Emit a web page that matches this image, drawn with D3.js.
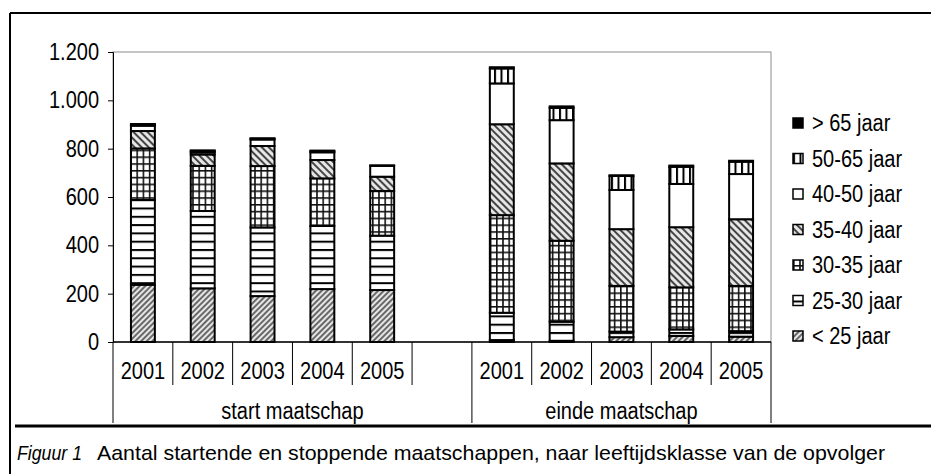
<!DOCTYPE html>
<html>
<head>
<meta charset="utf-8">
<script src="https://cdn.jsdelivr.net/npm/d3@7"></script>
<style>
  body { margin: 0; background: #fff; }
  svg text { font-family: "Liberation Sans", Arial, sans-serif; fill: #000; }
  /* narrow look of the original font */
  svg text.n { transform-box: fill-box; transform: scaleX(0.87); }
  svg text.ns { transform-origin: left center; }
  svg text.nm { transform-origin: center center; }
  svg text.ne { transform-origin: right center; }
</style>
</head>
<body>
<div id="chart"></div>
<script>
// categories (11 slots: 5 start years, an empty gap, 5 end years)
var slots = ["s2001", "s2002", "s2003", "s2004", "s2005", "gap", "e2001", "e2002", "e2003", "e2004", "e2005"];
var slotLabels = ["2001", "2002", "2003", "2004", "2005", "", "2001", "2002", "2003", "2004", "2005"];
var groups = ["start maatschap", "einde maatschap"];
var ageClasses = ["< 25 jaar", "25-30 jaar", "30-35 jaar", "35-40 jaar", "40-50 jaar", "50-65 jaar", "> 65 jaar"];
var yTicks = [0, 200, 400, 600, 800, 1000, 1200];

// values per age class, in slot order (gap = 0)
var lt25  = [237, 222, 190, 219, 215, 0,   8,   5,  20,  25,  22];
var a2530 = [351, 320, 284, 261, 225, 0, 113,  79,  23,  27,  23];
var a3035 = [213, 187, 254, 197, 185, 0, 404, 335, 189, 174, 187];
var a3540 = [ 72,  47,  83,  76,  59, 0, 376, 320, 235, 249, 276];
var a4050 = [ 22,   9,  27,  32,  45, 0, 169, 179, 162, 179, 187];
var a5065 = [  5,   5,   3,   4,   0, 0,  62,  51,  58,  71,  51];
var gt65  = [  2,   3,   2,   3,   2, 0,   5,   6,   3,   5,   4];

var series = [lt25, a2530, a3035, a3540, a4050, a5065, gt65];

var W = 931, H = 474;
var svg = d3.select("#chart").append("svg").attr("width", W).attr("height", H);

// patterns
var defs = svg.append("defs");
function pat(id, w, h, rot) {
  var p = defs.append("pattern").attr("id", id).attr("patternUnits", "userSpaceOnUse")
    .attr("width", w).attr("height", h);
  if (rot) p.attr("patternTransform", "rotate(" + rot + ")");
  return p;
}
var p0 = pat("p0", 4, 4, 45);
p0.append("rect").attr("width", 4).attr("height", 4).attr("fill", "#e6e6e6");
p0.append("line").attr("x1", 1).attr("x2", 1).attr("y1", 0).attr("y2", 4).attr("stroke", "#333").attr("stroke-width", 1.4);
var p1 = pat("p1", 8, 8.3);
p1.append("rect").attr("width", 8).attr("height", 8.3).attr("fill", "#fff");
p1.append("line").attr("x1", 0).attr("x2", 8).attr("y1", 1).attr("y2", 1).attr("stroke", "#000").attr("stroke-width", 2);
var p2 = pat("p2", 6.2, 6.8);
p2.append("rect").attr("width", 6.2).attr("height", 6.8).attr("fill", "#fff");
p2.append("line").attr("x1", 0).attr("x2", 6.2).attr("y1", 0.8).attr("y2", 0.8).attr("stroke", "#111").attr("stroke-width", 1.6);
p2.append("line").attr("x1", 0.8).attr("x2", 0.8).attr("y1", 0).attr("y2", 6.8).attr("stroke", "#111").attr("stroke-width", 1.6);
var p3 = pat("p3", 5, 5, -45);
p3.append("rect").attr("width", 5).attr("height", 5).attr("fill", "#e6e6e6");
p3.append("line").attr("x1", 1).attr("x2", 1).attr("y1", 0).attr("y2", 5).attr("stroke", "#333").attr("stroke-width", 1.8);
var p5 = pat("p5", 6.5, 6);
p5.append("rect").attr("width", 6.5).attr("height", 6).attr("fill", "#fff");
p5.append("line").attr("x1", 1).attr("x2", 1).attr("y1", 0).attr("y2", 6).attr("stroke", "#000").attr("stroke-width", 2);

var fills = ["url(#p0)", "url(#p1)", "url(#p2)", "url(#p3)", "#fff", "url(#p5)", "#000"];

// frame
svg.append("line").attr("x1", 10).attr("x2", W).attr("y1", 13).attr("y2", 13).attr("stroke", "#000").attr("stroke-width", 2);
svg.append("line").attr("x1", 10).attr("x2", 10).attr("y1", 13).attr("y2", H).attr("stroke", "#000").attr("stroke-width", 2);
svg.append("line").attr("x1", 15).attr("x2", W).attr("y1", 426).attr("y2", 426).attr("stroke", "#000").attr("stroke-width", 3);

var plotL = 113, plotR = 771, plotT = 52, plotB = 342;

var x = d3.scaleBand().domain(slots).range([plotL, plotR]).padding(0);
var y = d3.scaleLinear().domain([0, 1200]).range([plotB, plotT]);

// plot area border
svg.append("rect").attr("x", plotL).attr("y", plotT).attr("width", plotR - plotL).attr("height", plotB - plotT)
  .attr("fill", "none").attr("stroke", "#8c8c8c").attr("stroke-width", 1);

// stacked data
var table = slots.map(function(s, i) {
  var o = { slot: s };
  ageClasses.forEach(function(a, j) { o[a] = series[j][i]; });
  return o;
});
var stacked = d3.stack().keys(ageClasses)(table);

var barW = x.bandwidth() * 0.4;
var layers = svg.append("g").selectAll("g").data(stacked).enter().append("g")
  .attr("fill", function(d, i) { return fills[i]; });
layers.selectAll("rect").data(function(d) { return d.filter(function(e) { return e.data.slot !== "gap"; }); })
  .enter().append("rect")
  .attr("x", function(d) { return x(d.data.slot) + (x.bandwidth() - barW) / 2; })
  .attr("width", barW)
  .attr("y", function(d) { return y(d[1]); })
  .attr("height", function(d) { return Math.max(0, y(d[0]) - y(d[1])); })
  .attr("stroke", "#000").attr("stroke-width", 2);

// y axis
var yAxis = d3.axisLeft(y).tickValues(yTicks).tickSize(5).tickPadding(9)
  .tickFormat(function(d) { return d3.format(",")(d).replace(",", "."); });
var gy = svg.append("g").attr("transform", "translate(" + plotL + ",0)").call(yAxis);
gy.attr("font-family", null).attr("font-size", null);
gy.select(".domain").attr("stroke", "#000");
gy.selectAll("text").attr("font-size", 23).attr("class", "n ne");

// x axis line
svg.append("line").attr("x1", plotL).attr("x2", plotR).attr("y1", plotB).attr("y2", plotB).attr("stroke", "#000").attr("stroke-width", 1.5);

// separators between slots
var seps = slots.map(function(s) { return x(s); }).concat([plotR]);
svg.append("g").selectAll("line").data(seps).enter().append("line")
  .attr("x1", function(d) { return d; }).attr("x2", function(d) { return d; })
  .attr("y1", plotB)
  .attr("y2", function(d, i) { return (i === 0 || i === 6 || i === 11) ? 423 : 385; })
  .attr("stroke", "#000").attr("stroke-width", 1);

// year labels
svg.append("g").selectAll("text").data(slots).enter().append("text")
  .attr("class", "n nm")
  .attr("x", function(d) { return x(d) + x.bandwidth() / 2; })
  .attr("y", 379).attr("text-anchor", "middle").attr("font-size", 23)
  .text(function(d, i) { return slotLabels[i]; });

// group labels
var groupCenters = [(x("s2001") + x("e2001")) / 2, (x("e2001") + plotR) / 2];
svg.append("g").selectAll("text").data(groups).enter().append("text")
  .attr("class", "n nm")
  .attr("x", function(d, i) { return groupCenters[i]; })
  .attr("y", 419).attr("text-anchor", "middle").attr("font-size", 23)
  .text(function(d) { return d; });

// legend
var legY = d3.scalePoint().domain(ageClasses.slice().reverse()).range([123, 336]);
var leg = svg.append("g").selectAll("g").data(ageClasses).enter().append("g")
  .attr("transform", function(d) { return "translate(793," + legY(d) + ")"; });
leg.append("rect").attr("x", 0).attr("y", -5).attr("width", 10).attr("height", 10)
  .attr("fill", function(d, i) { return fills[i]; }).attr("stroke", "#000").attr("stroke-width", 1.5);
leg.append("text").attr("class", "n ns").attr("x", 19).attr("y", 8).attr("font-size", 23).text(function(d) { return d; });

// caption
svg.append("text").attr("x", 17).attr("y", 460).attr("font-size", 21)
  .attr("font-style", "italic").attr("textLength", 65).attr("lengthAdjust", "spacingAndGlyphs")
  .text("Figuur 1");
svg.append("text").attr("x", 97).attr("y", 460).attr("font-size", 21)
  .attr("textLength", 788).attr("lengthAdjust", "spacingAndGlyphs")
  .text("Aantal startende en stoppende maatschappen, naar leeftijdsklasse van de opvolger");
</script>
</body>
</html>
